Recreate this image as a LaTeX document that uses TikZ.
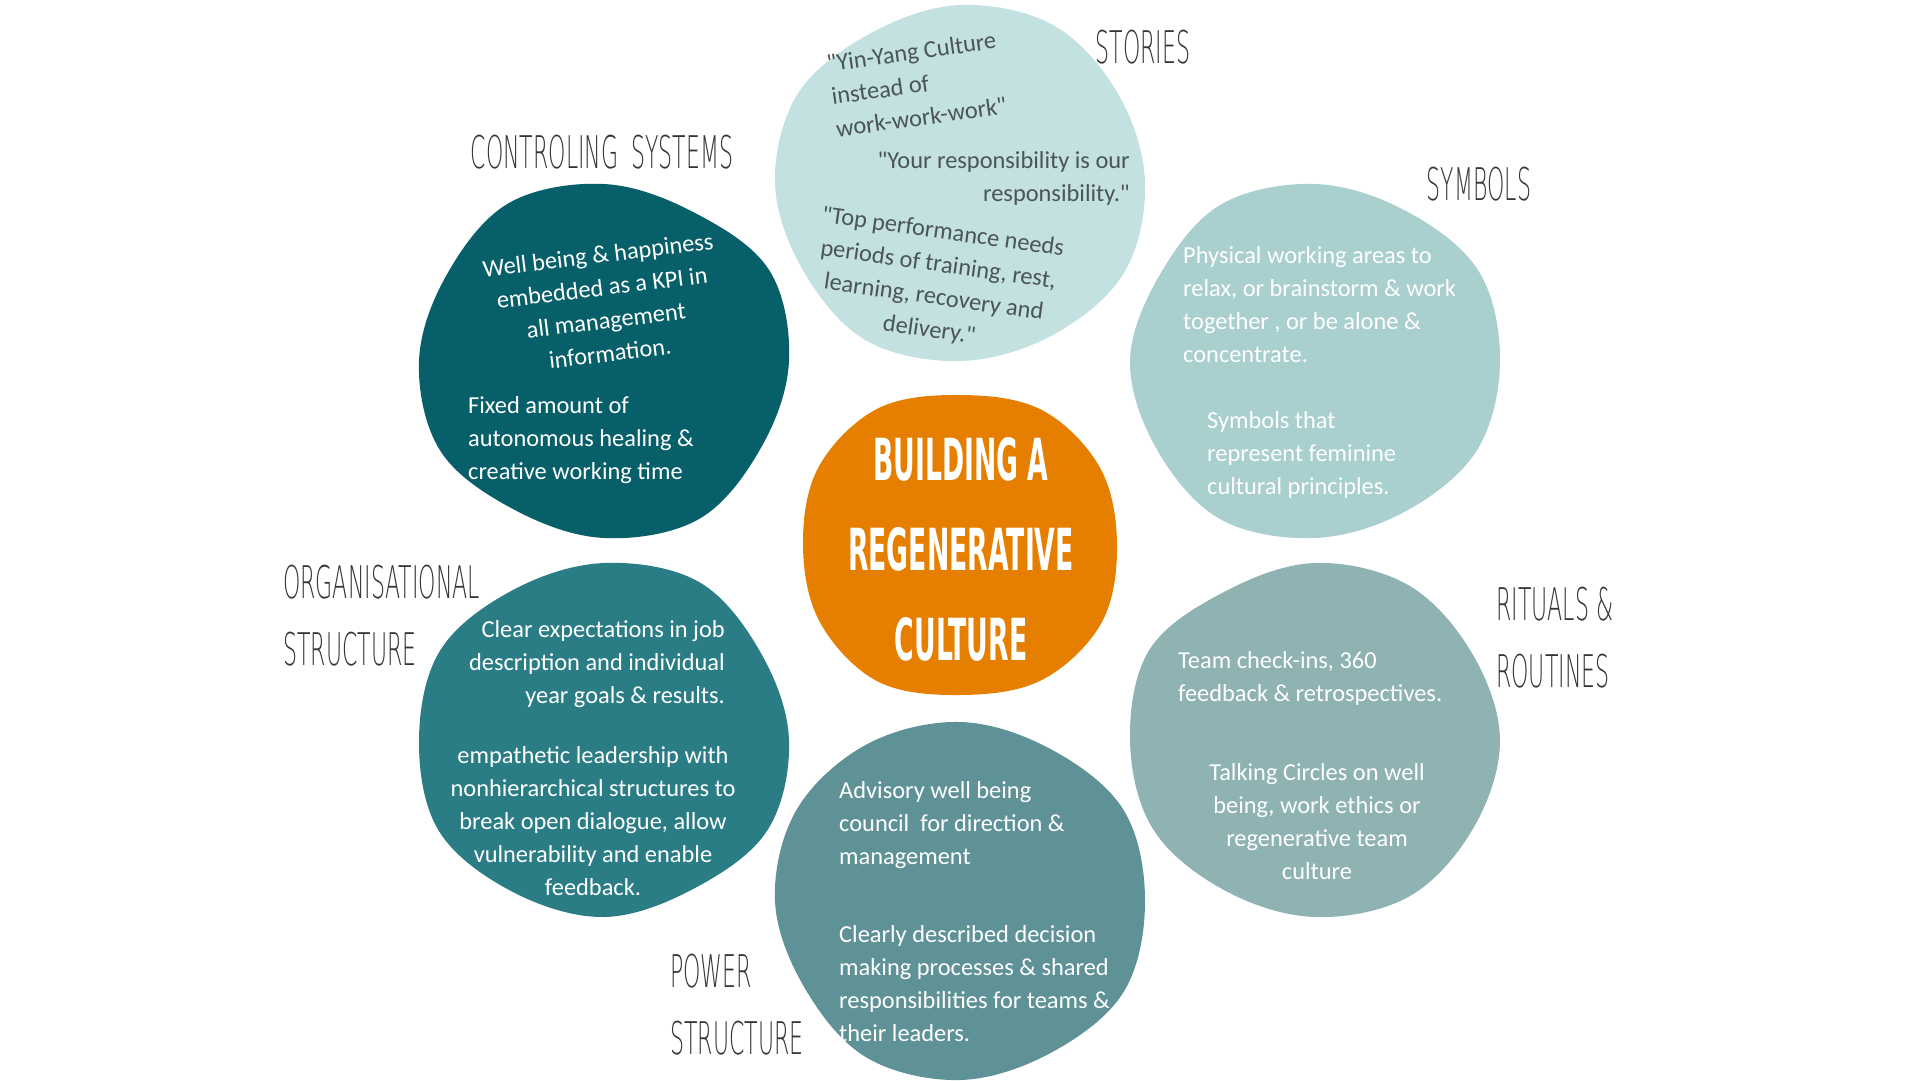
\documentclass[tikz,border=0pt]{standalone}
\usepackage{fontspec}
\setmainfont{Carlito}[Ligatures=TeXOff]
\newfontfamily\labfont[FakeStretch=0.49]{DejaVu Sans ExtraLight}
\newfontfamily\titlefont[FakeStretch=0.46]{DejaVu Sans}
\definecolor{cstories}{HTML}{C3E1E0}
\definecolor{csymbols}{HTML}{A9CFCE}
\definecolor{ccontrol}{HTML}{075F69}
\definecolor{corg}{HTML}{2A7D85}
\definecolor{critual}{HTML}{8FB2B2}
\definecolor{cpower}{HTML}{5F9296}
\definecolor{corange}{HTML}{E67E00}
\definecolor{storytext}{HTML}{4B5556}
\definecolor{labgray}{HTML}{353535}
\newcommand\lns[2]{\begin{tabular}[t]{@{}#1@{}}#2\end{tabular}}
\newcommand\blob[6]{\fill[#1,shift={(#2,#3)},xscale=#4,yscale=#5] plot[smooth cycle,tension=0.6] coordinates {#6};}
\begin{document}
\begin{tikzpicture}[x=1pt,y=-1pt,
  txt/.style={font=\fontsize{24.4}{33}\selectfont, text=white, inner sep=0pt},
  story/.style={txt, text=storytext},
  lab/.style={font=\labfont\fontsize{45}{67}\selectfont, text=labgray, inner sep=0pt},
  ttl/.style={font=\titlefont\bfseries\fontsize{58}{90}\selectfont, text=white, inner sep=0pt}]
\useasboundingbox (0,0) rectangle (1920,1080);
\fill[white] (0,0) rectangle (1920,1080);
% blobs
\blob{cstories}{960}{183}{185}{178}{(0:1) (30:1.02) (60:0.99) (90:1) (120:1.02) (150:0.98) (180:1) (210:1.01) (240:0.97) (270:1) (300:1.02) (330:0.99)}
\blob{ccontrol}{604}{361}{185}{177}{(0:1) (30:0.98) (60:1.03) (90:1) (120:0.97) (150:1.02) (180:1) (210:0.98) (240:1.03) (270:1) (300:0.97) (330:1.03)}
\blob{csymbols}{1315}{361}{185}{177}{(0:1) (30:1.01) (60:0.98) (90:1) (120:1.03) (150:0.99) (180:1) (210:0.97) (240:1.02) (270:1) (300:0.98) (330:1.02)}
\blob{corange}{960}{545}{157}{150}{(0:1) (30:1.04) (60:1.04) (90:1) (120:1.05) (150:1.03) (180:1) (210:1.04) (240:1.05) (270:1) (300:1.04) (330:1.03)}
\blob{corg}{604}{740}{185}{177}{(0:1) (30:1.02) (60:0.97) (90:1) (120:0.99) (150:1.03) (180:1) (210:1.02) (240:0.98) (270:1) (300:1.03) (330:0.98)}
\blob{critual}{1315}{740}{185}{177}{(0:1) (30:0.99) (60:1.02) (90:1) (120:0.98) (150:1.01) (180:1) (210:1.03) (240:0.97) (270:1) (300:1.01) (330:0.98)}
\blob{cpower}{960}{901}{185}{179}{(0:1) (30:1.02) (60:0.98) (90:1) (120:1.01) (150:0.97) (180:1) (210:1.02) (240:1.01) (270:1) (300:0.98) (330:1.02)}
% title
\node[ttl, anchor=base] (title) at (961,480) {\lns{c}{BUILDING A\\REGENERATIVE\\CULTURE}};
% stories
\node[story, anchor=base west, rotate=8] (st1) at (828,72) {\lns{l}{"Yin-Yang Culture\\instead of\\work-work-work"}};
\node[story, anchor=base east] (st2) at (1130,168) {\lns{r}{"Your responsibility is our\\responsibility."}};
\node[story, anchor=base, rotate=-8] (st3) at (942,239) {\lns{c}{"Top performance needs\\periods of training, rest,\\learning, recovery and\\delivery."}};
% controlling systems
\node[txt, anchor=base, rotate=7] (cs1) at (599,263) {\lns{c}{Well being \& happiness\\embedded as a KPI in\\all management\\information.}};
\node[txt, anchor=base west] (cs2) at (468,413) {\lns{l}{Fixed amount of\\autonomous healing \&\\creative working time}};
% symbols
\node[txt, anchor=base west] (sy1) at (1183,263) {\lns{l}{Physical working areas to\\relax, or brainstorm \& work\\together , or be alone \&\\concentrate.}};
\node[txt, anchor=base west] (sy2) at (1207,428) {\lns{l}{Symbols that\\represent feminine\\cultural principles.}};
% organisational structure
\node[txt, anchor=base east] (os1) at (725,637) {\lns{r}{Clear expectations in job\\description and individual\\year goals \& results.}};
\node[txt, anchor=base] (os2) at (593,763) {\lns{c}{empathetic leadership with\\nonhierarchical structures to\\break open dialogue, allow\\vulnerability and enable\\feedback.}};
% rituals
\node[txt, anchor=base west] (rr1) at (1178,668) {\lns{l}{Team check-ins, 360\\feedback \& retrospectives.}};
\node[txt, anchor=base] (rr2) at (1317,780) {\lns{c}{Talking Circles on well\\being, work ethics or\\regenerative team\\culture}};
% power
\node[txt, anchor=base west] (ps1) at (839,798) {\lns{l}{Advisory well being\\council\ \ for direction \&\\management}};
\node[txt, anchor=base west] (ps2) at (839,942) {\lns{l}{Clearly described decision\\making processes \& shared\\responsibilities for teams \&\\their leaders.}};
% labels
\node[lab, anchor=base] (lstories) at (1143,63) {STORIES};
\node[lab, anchor=base] (lcontrol) at (602,168) {CONTROLING\hspace{6pt} SYSTEMS};
\node[lab, anchor=base] (lsymbols) at (1479,200) {SYMBOLS};
\node[lab, anchor=base west] (lorg) at (283,598) {\lns{l}{ORGANISATIONAL\\STRUCTURE}};
\node[lab, anchor=base west] (lrit) at (1496,620) {\lns{l}{RITUALS \&\\ROUTINES}};
\node[lab, anchor=base west] (lpow) at (670,987) {\lns{l}{POWER\\STRUCTURE}};
\end{tikzpicture}
\end{document}
